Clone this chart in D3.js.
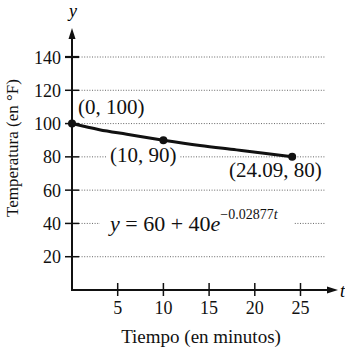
<!DOCTYPE html>
<html><head><meta charset="utf-8">
<script src="https://cdn.jsdelivr.net/npm/d3@7"></script>
<style>body{margin:0;background:#fff}</style>
</head><body><svg id="c" width="345" height="349"></svg>
<script>
const xTicks = [5, 10, 15, 20, 25];
const yTicks = [20, 40, 60, 80, 100, 120, 140];
const curveT = [0, 3, 6, 10, 14, 18, 21, 24.09];
const curveY = [100, 96.3, 93.6, 90, 86.8, 84.2, 82.2, 80];
const pointT = [0, 10, 24.09];
const pointY = [100, 90, 80];
const pointLabels = ["(0, 100)", "(10, 90)", "(24.09, 80)"];
const xTitle = "Tiempo (en minutos)";
const yTitle = "Temperatura (en °F)";

const FF = "Liberation Serif";
const svg = d3.select("#c");
const x = d3.scaleLinear().domain([0, 25]).range([72, 300.5]);
const y = d3.scaleLinear().domain([0, 140]).range([290, 57]);
function txt(g, xx, yy, s, size, anchor) {
  return g.append("text").attr("x", xx).attr("y", yy)
    .attr("font-family", FF).attr("font-size", size).attr("fill", "#111")
    .attr("text-anchor", anchor || "start").text(s);
}

// grid
svg.append("g").selectAll("line").data(yTicks).join("line")
  .attr("x1", 79).attr("x2", 325).attr("y1", d => y(d)).attr("y2", d => y(d))
  .attr("stroke", "#555").attr("stroke-width", 0.9).attr("stroke-dasharray", "1 1.6");

// knockouts for labels crossing grid
svg.append("rect").attr("x", 106).attr("y", y(80) - 4).attr("width", 73).attr("height", 8).attr("fill", "#fff");
svg.append("rect").attr("x", 100).attr("y", y(40) - 4).attr("width", 194).attr("height", 8).attr("fill", "#fff");

// axes
const ax = svg.append("g").attr("stroke", "#111").attr("stroke-width", 2);
ax.append("line").attr("x1", x(0)).attr("x2", x(0)).attr("y1", y(0)).attr("y2", 34);
ax.append("line").attr("x1", x(0) - 1).attr("x2", 331).attr("y1", y(0)).attr("y2", y(0));
svg.append("path").attr("d", `M${x(0)},28 L${x(0)-3.5},39 L${x(0)+3.5},39 Z`).attr("fill", "#111");
svg.append("path").attr("d", `M338,${y(0)} L327,${y(0)-3.5} L327,${y(0)+3.5} Z`).attr("fill", "#111");

// ticks
svg.append("g").selectAll("line").data(yTicks).join("line")
  .attr("x1", 65).attr("x2", 79).attr("y1", d => y(d)).attr("y2", d => y(d))
  .attr("stroke", "#111").attr("stroke-width", d => d === 140 ? 2.2 : 1.5);
svg.append("g").selectAll("line").data(xTicks).join("line")
  .attr("y1", 283).attr("y2", 296).attr("x1", d => x(d)).attr("x2", d => x(d))
  .attr("stroke", "#111").attr("stroke-width", 1.5);

// tick labels
const tl = svg.append("g");
yTicks.forEach(d => txt(tl, 61, y(d) + 6.5, d, 18, "end"));
xTicks.forEach(d => txt(tl, x(d), 314, d, 18, "middle"));

// axis letters
svg.append("text").attr("x", 73).attr("y", 17).attr("font-family", FF).attr("font-size", 18).attr("font-style", "italic").attr("text-anchor", "middle").text("y");
svg.append("text").attr("x", 340).attr("y", 297).attr("font-family", FF).attr("font-size", 18).attr("font-style", "italic").text("t");

// titles
txt(svg, 201, 343, xTitle, 19, "middle");
svg.append("text").attr("transform", "translate(18,148) rotate(-90)").attr("font-family", FF)
  .attr("font-size", 17).attr("fill", "#111").attr("text-anchor", "middle").text(yTitle);

// curve
const line = d3.line().x((d, i) => x(curveT[i])).y(d => y(d)).curve(d3.curveMonotoneX);
svg.append("path").datum(curveY).attr("d", line).attr("fill", "none").attr("stroke", "#111").attr("stroke-width", 3);
svg.append("g").selectAll("circle").data(pointT).join("circle")
  .attr("cx", d => x(d)).attr("cy", (d, i) => y(pointY[i])).attr("r", 4).attr("fill", "#111");

// point labels
const lp = [[78, 114], [110, 162], [229, 177]];
pointLabels.forEach((s, i) => txt(svg, lp[i][0], lp[i][1], s, 21, "start"));

// equation
const eq = svg.append("text").attr("x", 110).attr("y", 231)
  .attr("font-family", FF).attr("font-size", 22).attr("fill", "#111");
eq.append("tspan").attr("font-style", "italic").text("y");
eq.append("tspan").text(" = 60 + 40");
eq.append("tspan").attr("font-style", "italic").text("e");
eq.append("tspan").attr("dy", -12).attr("font-size", 14).text("\u22120.02877");
eq.append("tspan").attr("font-size", 14).attr("font-style", "italic").text("t");
</script></body></html>
